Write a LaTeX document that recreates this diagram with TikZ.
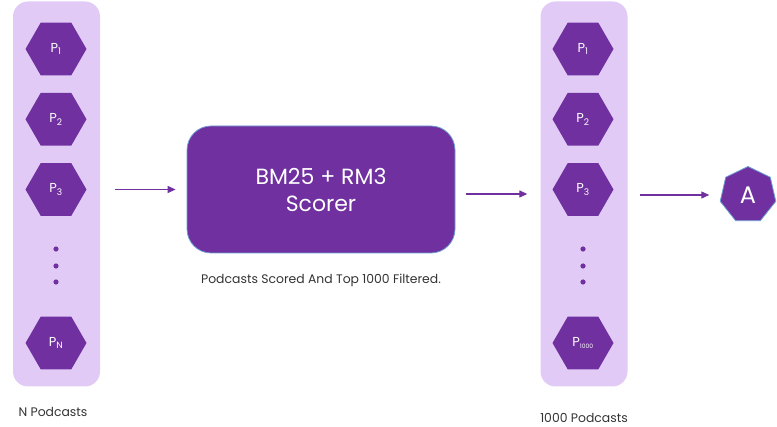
\documentclass[tikz,border=0pt]{standalone}
\usepackage{fontspec}
\setmainfont{Poppins}
\usetikzlibrary{arrows.meta,shapes.geometric,positioning}
\definecolor{plum}{HTML}{7030A0}
\definecolor{lilac}{HTML}{E1CBF6}
\definecolor{rim}{HTML}{6E9FD3}
\tikzset{
    column/.style={
        rectangle, fill=lilac,
        minimum width=87pt, minimum height=385pt,
        rounded corners=15pt,
    },
    podcast/.style={
        regular polygon, regular polygon sides=6,
        fill=plum, minimum size=61pt, inner sep=0pt,
        text=white, font=\fontsize{13}{15}\selectfont,
    },
    scorer/.style={
        rectangle, draw=rim, fill=plum, line width=0.8pt,
        minimum width=268pt, minimum height=127pt,
        rounded corners=24pt, text=white, align=center,
        font=\fontsize{22}{27}\selectfont,
    },
    answer/.style={
        regular polygon, regular polygon sides=7,
        draw=rim, fill=plum, line width=0.8pt,
        minimum size=57pt, inner sep=0pt,
        text=white, font=\fontsize{24}{26}\selectfont,
    },
    caption/.style={
        text=black!80, font=\fontsize{12.4}{14}\selectfont,
    },
    line/.style={
        draw=plum, line width=1.3pt, -{Triangle[length=8pt,width=7pt]},
    },
}

\begin{document}
\begin{tikzpicture}[x=1pt,y=1pt]
                \useasboundingbox (0,0) rectangle (777,-427);
                % left column
                \node [column] (left) at (56.5,-194) {};
                \node [podcast] (lp1) at (56,-49) {P\textsubscript{1}};
                \node [podcast, below=17pt of lp1] (lp2) {P\textsubscript{2}};
                \node [podcast, below=17pt of lp2] (lp3) {P\textsubscript{3}};
                \node [podcast] (lpn) at (56,-343) {P\textsubscript{N}};
                \foreach \y in {249,266,282}
                    \fill[plum] (56,-\y) circle (2.6pt);
                \node [caption] (lcap) at (53,-412) {N Podcasts};
                % scorer
                \node [scorer] (score) at (321,-189.5) {BM25 + RM3\\Scorer};
                \node [caption, below=17pt of score] (scap) {Podcasts Scored And Top 1000 Filtered.};
                % right column
                \node [column] (right) at (584,-194) {};
                \node [podcast] (rp1) at (583,-49) {P\textsubscript{1}};
                \node [podcast, below=17pt of rp1] (rp2) {P\textsubscript{2}};
                \node [podcast, below=17pt of rp2] (rp3) {P\textsubscript{3}};
                \node [podcast] (rpn) at (583,-343) {P\textsubscript{\fontsize{6}{6}\selectfont 1000}};
                \foreach \y in {249,266,282}
                    \fill[plum] (583,-\y) circle (2.6pt);
                \node [caption] (rcap) at (584,-418) {1000 Podcasts};
                % answer
                \node [answer] (ans) at (748,-195) {A};
                % flow
                \coordinate (m1) at ([yshift=-4.5pt]score.east);
                \draw[line, shorten <=15pt, shorten >=11pt] (left.east |- score) -- (score.west);
                \draw[line, shorten <=11pt, shorten >=13pt] (m1) -- (right.west |- m1);
                \draw[line, shorten <=12pt, shorten >=12pt] (right.east |- ans) -- (ans.west);
\end{tikzpicture}
\end{document}
